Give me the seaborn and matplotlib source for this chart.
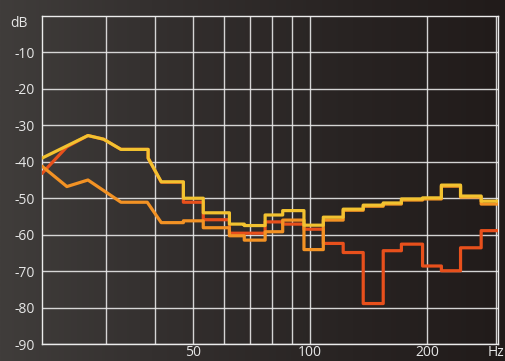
import numpy as np
import pandas as pd
import seaborn as sns
import matplotlib.pyplot as plt
from matplotlib.colors import LinearSegmentedColormap

# Band edges (Hz) of the stepped part of each response
band_edges = [41.5, 47.3, 53.2, 62.1, 67.8, 76.7, 85.1, 96.5, 108.2,
              121.7, 137.0, 154.2, 171.7, 194.6, 217.5, 243.6, 275.2, 304.0]

# Low-frequency sweep points (Hz, dB) before the banded section
red_lead_hz = [20.5, 23.75, 26.9, 29.5, 32.7, 38.4, 38.4]
red_lead_db = [-43.2, -35.9, -32.8, -33.8, -36.6, -36.6, -39.0]
orange_lead_hz = [20.5, 23.75, 26.9, 32.7, 38.2]
orange_lead_db = [-41.2, -46.8, -45.0, -51.1, -51.1]
yellow_lead_hz = [20.5, 26.9, 29.5, 32.7, 38.4, 38.4]
yellow_lead_db = [-39.0, -32.8, -33.8, -36.6, -36.6, -39.0]

# Band levels (dB), one per band
red_bands = [-45.6, -51.1, -55.9, -59.6, -59.6, -56.5, -57.1, -58.5, -62.4,
             -64.9, -78.9, -64.4, -62.6, -68.6, -69.9, -63.6, -58.9]
orange_bands = [-56.7, -56.2, -58.1, -60.3, -61.5, -59.2, -56.0, -64.1, -56.0,
                -53.3, -52.2, -51.6, -50.5, -50.2, -46.7, -49.7, -51.6]
yellow_bands = [-45.5, -50.0, -54.0, -57.1, -57.5, -54.6, -53.4, -57.4, -55.2,
                -53.0, -51.9, -51.3, -50.2, -49.9, -46.4, -49.4, -50.8]

y_ticks = [-90, -80, -70, -60, -50, -40, -30, -20, -10]
x_grid = [30, 40, 50, 60, 70, 80, 90, 100, 200, 300]
x_labels = ["", "", "50", "", "", "", "", "100", "200", "Hz"]

palette = {"red": "#e8501c", "orange": "#f39224", "yellow": "#f2c230"}


def trace(name, lead_hz, lead_db, bands):
    hz = list(lead_hz)
    db = list(lead_db)
    for i, level in enumerate(bands):
        hz += [band_edges[i], band_edges[i + 1]]
        db += [level, level]
    return pd.DataFrame({"Hz": hz, "dB": db, "series": name})


df = pd.concat([
    trace("red", red_lead_hz, red_lead_db, red_bands),
    trace("orange", orange_lead_hz, orange_lead_db, orange_bands),
    trace("yellow", yellow_lead_hz, yellow_lead_db, yellow_bands),
], ignore_index=True)

sns.set_theme(style="dark")
plt.rcParams["font.family"] = ["Open Sans", "DejaVu Sans"]

W, H = 505, 361
fig = plt.figure(figsize=(W / 100, H / 100), dpi=100)

# dark horizontal gradient backdrop
bg = fig.add_axes([0, 0, 1, 1], zorder=-10)
cmap = LinearSegmentedColormap.from_list(
    "bg", [(0.0, "#403d3b"), (0.3, "#34302f"), (0.7, "#282322"), (1.0, "#211b1a")])
bg.imshow(np.linspace(0, 1, 256)[None, :], aspect="auto", cmap=cmap,
          extent=[0, 1, 0, 1])
bg.set_axis_off()

ax = fig.add_axes([42 / W, (H - 344) / H, (498 - 42) / W, (344 - 16) / H])
ax.set_facecolor("none")

sns.lineplot(data=df, x="Hz", y="dB", hue="series", palette=palette,
             hue_order=["red", "orange", "yellow"], sort=False, estimator=None,
             legend=False, linewidth=2.3, ax=ax, zorder=3)

ax.set_xscale("log")
ax.set_xlim(20.5, 304)
ax.set_ylim(-90, 0)

ax.set_xticks(x_grid)
ax.set_xticklabels(x_labels)
ax.xaxis.set_minor_locator(plt.NullLocator())
ax.set_yticks(y_ticks)
ax.set_yticklabels([str(t) for t in y_ticks])

ax.grid(True, which="major", color="#e8e8e8", linewidth=1.0, alpha=0.9)
ax.tick_params(axis="both", length=0, colors="#e6e6e6", labelsize=10)
ax.tick_params(axis="y", pad=5)
ax.tick_params(axis="x", pad=1)
for s in ax.spines.values():
    s.set_visible(True)
    s.set_color("#ececec")
    s.set_linewidth(1.0)

ax.set_xlabel("")
ax.set_ylabel("")
fig.text(18.5 / W, 1 - 16 / H, "dB", color="#e6e6e6", fontsize=10,
         ha="center", va="top")

fig.savefig("out.png", dpi=100)
